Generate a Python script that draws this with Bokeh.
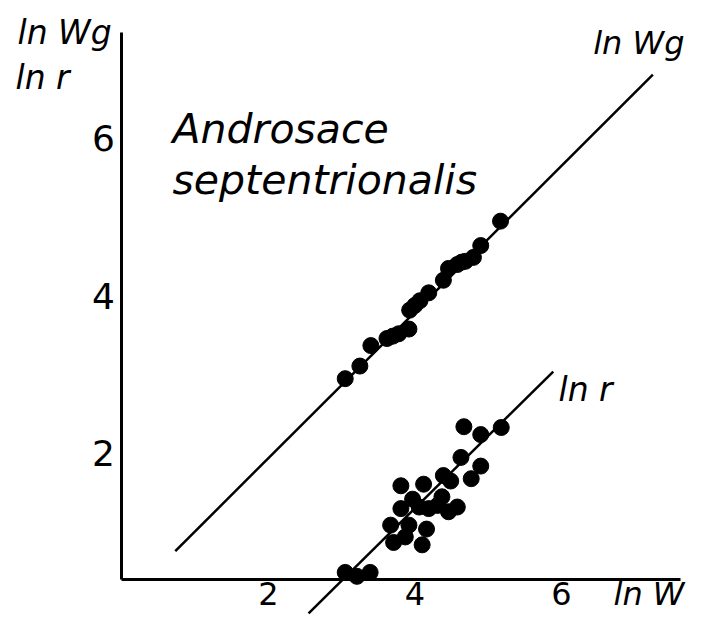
from bokeh.plotting import figure
from bokeh.models import Range1d, FixedTicker, Label
from bokeh.embed import file_html
from bokeh.resources import INLINE

# Upper series: ln W vs ln Wg
wg_lnw = [3.05, 3.25, 3.40, 3.62, 3.70, 3.78, 3.92, 3.93, 4.00, 4.07, 4.19,
          4.39, 4.46, 4.58, 4.64, 4.69, 4.80, 4.90, 5.17]
wg_lnwg = [2.95, 3.11, 3.37, 3.46, 3.49, 3.52, 3.58, 3.82, 3.88, 3.94, 4.04,
           4.20, 4.35, 4.40, 4.43, 4.44, 4.49, 4.64, 4.95]

# Lower series: ln W vs ln r
r_lnw = [4.67, 4.90, 5.18, 4.63, 4.90, 4.77, 4.39, 4.49, 3.81, 4.12, 3.97,
         3.81, 4.06, 4.19, 4.31, 4.37, 4.46, 4.58, 3.67, 3.92, 4.16, 3.71,
         3.87, 4.10, 3.05, 3.21, 3.39]
r_lnr = [2.34, 2.24, 2.33, 1.95, 1.84, 1.68, 1.72, 1.65, 1.59, 1.61, 1.42,
         1.30, 1.32, 1.30, 1.34, 1.45, 1.26, 1.32, 1.09, 1.09, 1.04, 0.87,
         0.94, 0.84, 0.49, 0.44, 0.49]

# Fitted lines (end points)
wg_fit_x = [0.73, 7.25]
wg_fit_y = [0.76, 6.81]
r_fit_x = [2.55, 5.89]
r_fit_y = [-0.03, 3.04]

x_ticks = [2, 4, 6]
y_ticks = [2, 4, 6]

W, H = 686, 616
p = figure(width=W, height=H, output_backend="svg", toolbar_location=None,
           x_range=Range1d(-1.656, 7.709), y_range=Range1d(-0.070, 7.752),
           min_border=0, outline_line_color=None, background_fill_color="white")
p.grid.visible = False

FONT = "DejaVu Sans"

for ax in (p.xaxis[0], p.yaxis[0]):
    ax.axis_line_width = 3
    ax.axis_line_color = "black"
    ax.major_tick_line_color = None
    ax.minor_tick_line_color = None
    ax.major_tick_out = 0
    ax.major_tick_in = 0
    ax.major_label_text_font = FONT
    ax.major_label_text_color = "black"

p.xaxis[0].major_label_text_font_size = "32px"
p.yaxis[0].major_label_text_font_size = "36px"
p.xaxis[0].ticker = FixedTicker(ticks=x_ticks)
p.yaxis[0].ticker = FixedTicker(ticks=y_ticks)
p.xaxis[0].fixed_location = 0.4
p.yaxis[0].fixed_location = 0.0
p.xaxis[0].bounds = (0.0, 7.63)
p.yaxis[0].bounds = (0.4, 7.35)
p.xaxis[0].major_label_standoff = 3
p.yaxis[0].major_label_standoff = 7

p.line(wg_fit_x, wg_fit_y, line_width=2.5, color="black")
p.line(r_fit_x, r_fit_y, line_width=2.5, color="black")
p.scatter(wg_lnw, wg_lnwg, size=16, color="black")
p.scatter(r_lnw, r_lnr, size=16, color="black")

def lab(text, sx, sy, size, align="left"):
    # sy is the wanted baseline (pixels from top); compensate the label's offset
    sy_eff = sy - 0.38 * size
    p.add_layout(Label(x=sx, y=H - sy_eff, x_units="screen", y_units="screen",
                       text=text, text_font=FONT, text_font_style="italic",
                       text_font_size=f"{size}px", text_color="black",
                       text_align=align, text_baseline="alphabetic"))

lab("ln Wg", 17, 45, 33)
lab("ln r", 15, 90, 33)
lab("ln Wg", 684, 55, 32, align="right")
lab("ln r", 558, 402, 33)
lab("ln W", 684, 606, 32, align="right")
lab("Androsace", 172, 144, 41)
lab("septentrionalis", 172, 195, 41)

open("out.html", "w").write(file_html(p, INLINE))
